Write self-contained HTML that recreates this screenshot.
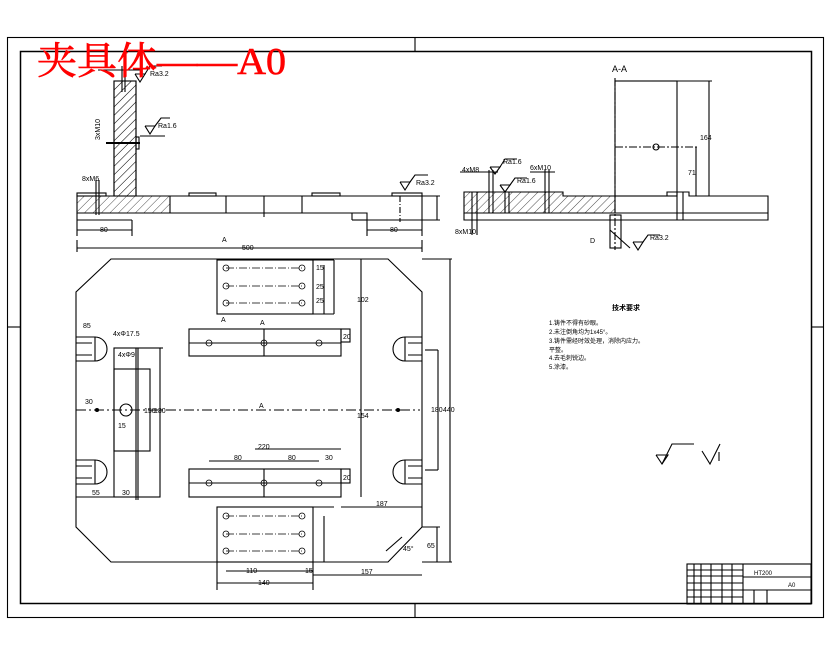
<!DOCTYPE html>
<html><head><meta charset="utf-8"><style>
html,body{margin:0;padding:0;background:#fff;width:830px;height:654px;overflow:hidden}
svg{display:block}
text{font-family:"Liberation Sans","Noto Sans CJK SC",sans-serif;fill:#000}
</style></head><body>
<svg width="830" height="654" viewBox="0 0 830 654" xmlns="http://www.w3.org/2000/svg">
<defs>
<pattern id="h" width="6" height="6" patternUnits="userSpaceOnUse" patternTransform="rotate(45)">
<line x1="0" y1="0" x2="0" y2="6" stroke="#000" stroke-width="0.7"/></pattern>
</defs>
<g fill="none" stroke="#000" stroke-width="1.1">
<!-- frames -->
<rect x="7.5" y="37.5" width="816" height="580"/>
<rect x="20.5" y="51.5" width="791" height="552" stroke-width="1.5"/>
<line x1="415" y1="37" x2="415" y2="51"/>
<line x1="811" y1="327" x2="824" y2="327"/>
<line x1="7" y1="327" x2="20" y2="327"/>
<line x1="415" y1="604" x2="415" y2="617"/>

<!-- front view -->
<rect x="114" y="81" width="22" height="115" fill="url(#h)"/>
<polygon points="77,196 114,196 114,81 136,81 136,196 170,196 170,213 77,213" fill="url(#h)"/>
<rect x="77" y="193" width="29" height="3"/>
<rect x="136" y="137" width="3" height="12"/>
<line x1="106" y1="143" x2="140" y2="143" stroke-width="2"/>
<polyline points="170,196 422,196 422,220 367,220 367,213 77,213"/>
<line x1="77" y1="213" x2="77" y2="220"/><line x1="77" y1="220" x2="132" y2="220"/>
<line x1="352" y1="213" x2="352" y2="220"/><line x1="352" y1="220" x2="367" y2="220"/>
<rect x="189" y="193" width="27" height="3"/><rect x="312" y="193" width="28" height="3"/><rect x="392" y="193" width="30" height="3"/>
<line x1="226" y1="196" x2="226" y2="213"/><line x1="264" y1="196" x2="264" y2="217"/><line x1="302" y1="196" x2="302" y2="213"/>
<line x1="400" y1="196" x2="400" y2="222" stroke-dasharray="6,2,1,2"/>
<line x1="96" y1="180" x2="96" y2="215"/><line x1="99" y1="180" x2="99" y2="215"/>
<line x1="122" y1="66" x2="122" y2="92"/><line x1="125" y1="66" x2="125" y2="92"/>
<line x1="98" y1="70" x2="140" y2="70"/>
<line x1="77" y1="220" x2="77" y2="236"/><line x1="132" y1="220" x2="132" y2="236"/><line x1="77" y1="230" x2="132" y2="230"/>
<line x1="367" y1="220" x2="367" y2="236"/><line x1="422" y1="220" x2="422" y2="236"/><line x1="367" y1="230" x2="422" y2="230"/>
<line x1="77" y1="248" x2="422" y2="248"/><line x1="77" y1="240" x2="77" y2="252"/><line x1="422" y1="240" x2="422" y2="252"/>
<line x1="437" y1="196" x2="437" y2="220"/><line x1="422" y1="196" x2="440" y2="196"/><line x1="422" y1="220" x2="440" y2="220"/>
<polyline points="145,126 150,134 155,126 145,126"/><polyline points="155,126 161,118 170,118"/><line x1="140" y1="136" x2="165" y2="136"/>
<polyline points="135,74 140,82 145,74 135,74"/><polyline points="145,74 150,66 162,66"/>
<polyline points="400,182 405,190 410,182 400,182"/><polyline points="410,182 415,175 428,175"/>

<!-- plan view -->
<polygon points="111,259 388,259 422,292 422,527 388,562 111,562 76,527 76,292"/>
<rect x="217" y="260" width="96" height="54"/><line x1="313" y1="260" x2="334" y2="260"/><line x1="313" y1="314" x2="334" y2="314"/><line x1="334" y1="260" x2="334" y2="314"/>
<rect x="189" y="329" width="152" height="27"/><rect x="341" y="329" width="9" height="13"/><line x1="264" y1="329" x2="264" y2="356"/>
<rect x="189" y="469" width="152" height="28"/><rect x="341" y="469" width="9" height="14"/><line x1="264" y1="469" x2="264" y2="497"/>
<line x1="189" y1="483" x2="341" y2="483"/><line x1="189" y1="343" x2="341" y2="343"/>
<rect x="217" y="507" width="96" height="55"/><line x1="313" y1="507" x2="334" y2="507"/>
<rect x="114" y="348" width="46" height="149"/><rect x="114" y="369" width="36" height="82"/>
<line x1="136" y1="348" x2="136" y2="500"/><line x1="138" y1="348" x2="138" y2="500"/>
<line x1="160" y1="348" x2="163" y2="348"/>
<line x1="76" y1="497" x2="136" y2="497"/>
<line x1="76" y1="410" x2="420" y2="410" stroke-dasharray="10,3,2,3"/>
<line x1="361" y1="259" x2="361" y2="497"/>
<line x1="425" y1="350" x2="438" y2="350"/><line x1="425" y1="470" x2="438" y2="470"/><line x1="438" y1="350" x2="438" y2="470"/>
<line x1="422" y1="259" x2="452" y2="259"/><line x1="422" y1="562" x2="452" y2="562"/><line x1="450" y1="259" x2="450" y2="562"/>
<line x1="341" y1="507" x2="422" y2="507"/><line x1="422" y1="527" x2="440" y2="527"/><line x1="437" y1="527" x2="437" y2="562"/>
<line x1="255" y1="449" x2="341" y2="449"/><line x1="209" y1="461" x2="319" y2="461"/>
<line x1="226" y1="571" x2="313" y2="571"/><line x1="217" y1="583" x2="313" y2="583"/><line x1="313" y1="575" x2="422" y2="575"/>
<line x1="324" y1="265" x2="324" y2="314"/><line x1="324" y1="516" x2="324" y2="562"/>
<line x1="217" y1="562" x2="217" y2="590"/><line x1="313" y1="562" x2="313" y2="590"/>
<g>
<path d="M76,337 H95 V361 H76 M76,343 H92 M76,355 H92"/><path d="M95,337 A12,12 0 0 1 95,361"/>
<path d="M76,460 H95 V484 H76 M76,466 H92 M76,478 H92"/><path d="M95,460 A12,12 0 0 1 95,484"/>
<path d="M422,337 H405 V361 H422 M422,343 H408 M422,355 H408"/><path d="M405,337 A12,12 0 0 0 405,361"/>
<path d="M422,460 H405 V484 H422 M422,466 H408 M422,478 H408"/><path d="M405,460 A12,12 0 0 0 405,484"/>
</g>
<circle cx="126" cy="410" r="6"/><circle cx="398" cy="410" r="1.5" fill="#000"/><circle cx="97" cy="410" r="1.5" fill="#000"/>
<g stroke-width="0.8">
<circle cx="226" cy="268" r="3"/><circle cx="302" cy="268" r="3"/><circle cx="226" cy="286" r="3"/><circle cx="302" cy="286" r="3"/><circle cx="226" cy="303" r="3"/><circle cx="302" cy="303" r="3"/>
<circle cx="226" cy="516" r="3"/><circle cx="302" cy="516" r="3"/><circle cx="226" cy="534" r="3"/><circle cx="302" cy="534" r="3"/><circle cx="226" cy="551" r="3"/><circle cx="302" cy="551" r="3"/>
<circle cx="209" cy="343" r="3"/><circle cx="264" cy="343" r="3"/><circle cx="319" cy="343" r="3"/>
<circle cx="209" cy="483" r="3"/><circle cx="264" cy="483" r="3"/><circle cx="319" cy="483" r="3"/>
<line x1="226" y1="268" x2="302" y2="268" stroke-dasharray="8,2,1,2"/><line x1="226" y1="286" x2="302" y2="286" stroke-dasharray="8,2,1,2"/><line x1="226" y1="303" x2="302" y2="303" stroke-dasharray="8,2,1,2"/>
<line x1="226" y1="516" x2="302" y2="516" stroke-dasharray="8,2,1,2"/><line x1="226" y1="534" x2="302" y2="534" stroke-dasharray="8,2,1,2"/><line x1="226" y1="551" x2="302" y2="551" stroke-dasharray="8,2,1,2"/>
</g>
<line x1="386" y1="551" x2="402" y2="537"/>

<!-- section A-A -->
<polygon points="464,192 563,192 563,196 615,196 615,213 464,213" fill="url(#h)"/>
<polyline points="615,196 667,196 667,192 689,192 689,196 768,196 768,220 464,220 464,213"/>
<line x1="615" y1="213" x2="768" y2="213"/>
<rect x="615" y="81" width="62" height="115"/><line x1="677" y1="81" x2="712" y2="81"/>
<line x1="615" y1="78" x2="615" y2="250" stroke-dasharray="8,2,2,2"/>
<line x1="615" y1="147" x2="697" y2="147" stroke-dasharray="8,2,2,2"/><circle cx="656" cy="147" r="3"/>
<line x1="709" y1="81" x2="709" y2="196"/><line x1="696" y1="147" x2="696" y2="196"/>
<line x1="677" y1="192" x2="677" y2="220"/><line x1="683" y1="192" x2="683" y2="220"/>
<rect x="610" y="215" width="11" height="33"/><line x1="610" y1="230" x2="630" y2="248"/>
<line x1="472" y1="192" x2="472" y2="235"/><line x1="477" y1="192" x2="477" y2="235"/>
<line x1="489" y1="170" x2="489" y2="213"/><line x1="493" y1="170" x2="493" y2="213"/>
<line x1="505" y1="192" x2="505" y2="213"/><line x1="509" y1="192" x2="509" y2="213"/>
<line x1="545" y1="170" x2="545" y2="213"/><line x1="549" y1="170" x2="549" y2="213"/>
<line x1="460" y1="172" x2="498" y2="172"/><line x1="530" y1="172" x2="555" y2="172"/>
<polyline points="490,167 495,174 500,167 490,167"/><polyline points="500,167 505,159 517,159"/>
<polyline points="500,185 505,192 510,185 500,185"/><polyline points="510,185 515,178 527,178"/>
<polyline points="633,242 638,250 643,242 633,242"/><polyline points="643,242 648,235 660,235"/>

<polyline points="656,455 662,464 668,455 656,455"/><polyline points="662,464 672,444 694,444"/>
<polyline points="702,451 710,464 720,444"/><line x1="719" y1="452" x2="719" y2="461"/>

<rect x="687" y="564" width="124" height="40"/>
<line x1="743" y1="564" x2="743" y2="604"/><line x1="743" y1="577" x2="811" y2="577"/><line x1="743" y1="590" x2="811" y2="590"/>
<line x1="687" y1="570" x2="743" y2="570"/><line x1="687" y1="576" x2="743" y2="576"/><line x1="687" y1="583" x2="743" y2="583"/><line x1="687" y1="590" x2="743" y2="590"/><line x1="687" y1="597" x2="743" y2="597"/>
<line x1="694" y1="564" x2="694" y2="604"/><line x1="701" y1="564" x2="701" y2="604"/><line x1="711" y1="564" x2="711" y2="604"/><line x1="722" y1="564" x2="722" y2="604"/><line x1="732" y1="564" x2="732" y2="604"/>
<line x1="767" y1="590" x2="767" y2="604"/><line x1="754" y1="590" x2="754" y2="604"/>
</g>

<text x="37" y="74" font-size="38" textLength="249" lengthAdjust="spacingAndGlyphs" style="fill:#ff0000;font-family:'Liberation Serif','Noto Serif CJK SC',serif;stroke:#ff0000;stroke-width:0.6">夹具体——A0</text>

<g font-size="7">
<text x="100" y="232">80</text><text x="390" y="232">80</text><text x="242" y="250">500</text><text x="222" y="242">A</text>
<text x="150" y="76">Ra3.2</text><text x="158" y="128">Ra1.6</text><text x="416" y="185">Ra3.2</text>
<text x="100" y="140" transform="rotate(-90 100 140)">3xM10</text><text x="82" y="181">8xM6</text>
<text x="83" y="328">85</text><text x="113" y="336">4xΦ17.5</text><text x="118" y="357">4xΦ9</text>
<text x="85" y="404">30</text><text x="118" y="428">15</text><text x="144" y="413">150</text><text x="154" y="413">180</text>
<text x="92" y="495">55</text><text x="122" y="495">30</text><text x="259" y="408">A</text>
<text x="258" y="449">220</text><text x="234" y="460">80</text><text x="288" y="460">80</text><text x="325" y="460">30</text>
<text x="376" y="506">187</text><text x="361" y="574">157</text><text x="246" y="573">110</text><text x="305" y="573">15</text><text x="258" y="585">140</text>
<text x="357" y="302">102</text><text x="357" y="418">154</text><text x="431" y="412">180</text><text x="443" y="412">440</text>
<text x="427" y="548">65</text><text x="403" y="551">45°</text><text x="221" y="322">A</text><text x="260" y="325">A</text>
<text x="343" y="339">20</text><text x="343" y="480">20</text><text x="316" y="270">15</text><text x="316" y="289">25</text><text x="316" y="303">25</text>
<text x="612" y="72" font-size="9">A-A</text><text x="700" y="140">164</text><text x="688" y="175">71</text>
<text x="462" y="172">4xM8</text><text x="503" y="164">Ra1.6</text><text x="517" y="183">Ra1.6</text><text x="530" y="170">6xM10</text>
<text x="455" y="234">8xM10</text><text x="590" y="243">D</text><text x="650" y="240">Ra3.2</text>
<text x="612" y="310" font-weight="bold">技术要求</text>
<text x="549" y="325" font-size="6">1.铸件不得有砂眼。</text><text x="549" y="334" font-size="6">2.未注倒角均为1x45°。</text>
<text x="549" y="343" font-size="6">3.铸件需经时效处理，消除内应力。</text><text x="549" y="352" font-size="6">平整。</text>
<text x="549" y="360" font-size="6">4.去毛刺锐边。</text><text x="549" y="369" font-size="6">5.涂漆。</text>
<text x="754" y="575" font-size="6">HT200</text><text x="788" y="587" font-size="6">A0</text>
</g>
</svg>
</body></html>
